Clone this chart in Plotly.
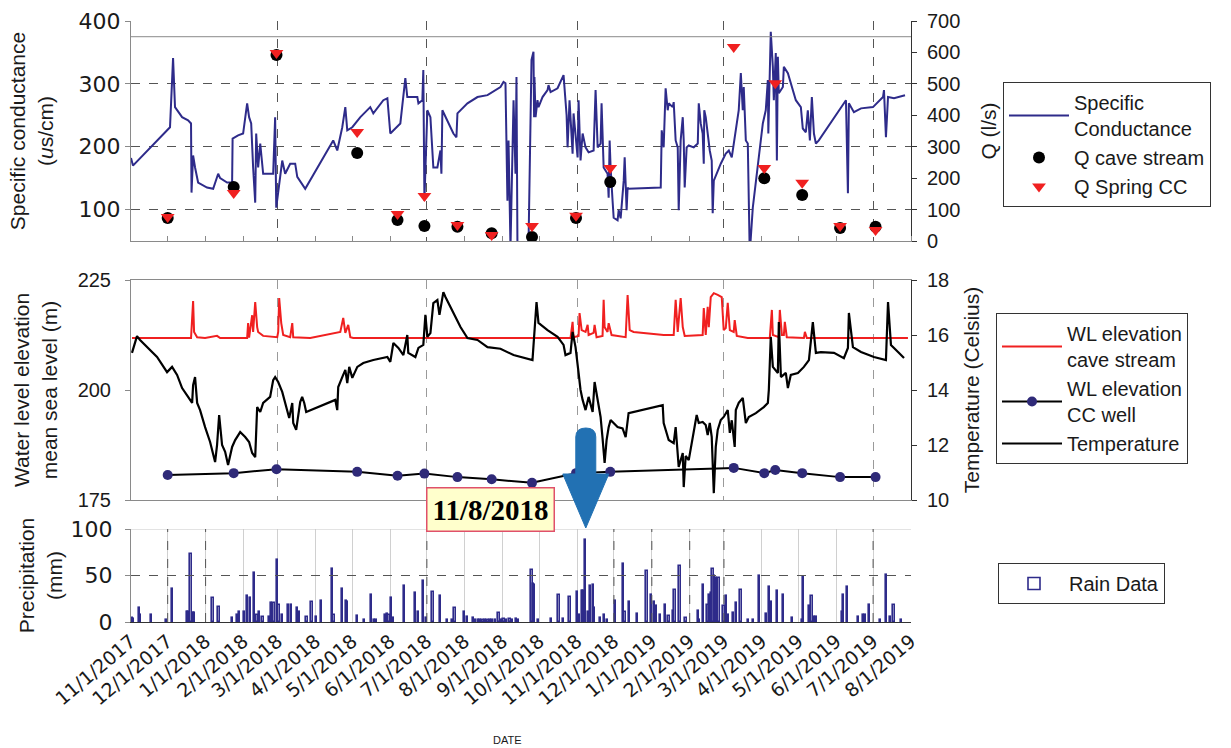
import pandas as pd
import plotly.graph_objects as go

W, H = 1231, 748
START = pd.Timestamp("2017-11-01")
END = pd.Timestamp("2019-08-01")
FONT = "Arial, Liberation Sans, sans-serif"
WIDE_FONT = "DejaVu Sans, Verdana, sans-serif"

# ---------------- data (day = days since 1 Nov 2017) ----------------
# Specific conductance at the spring (uS/cm)
sc_day = [0, 1.6, 31.9, 34.4, 36, 41.8, 46.7, 49.1, 49.5, 50.8,
          52.4, 54.9, 62.2, 67.2, 71.3, 72.9, 78.6, 82.7, 83.1, 87.6,
          91.7, 95, 96.6, 98.3, 99.9, 101.6, 102.4, 104, 105.7, 108.1,
          116.3, 117.9, 118.8, 123.7, 126.1, 130.2, 134.3, 136, 142.5, 165.4,
          168.7, 172.8, 175.3, 176.9, 181, 187.6, 195.7, 198.2, 206.4, 209.7,
          212.1, 214.6, 220.3, 224.4, 226, 234.2, 235.1, 238.3, 239.1, 240,
          242.4, 244.9, 247.3, 250.6, 253.1, 253.9, 254.7, 263.7, 266.2, 267,
          275.2, 283.4, 291.6, 302.2, 304.7, 306.3, 307.9, 308.8, 310.4, 312.9,
          314.5, 315.3, 316.1, 325.1, 327.6, 329.2, 329.7, 330, 330.9, 332.5,
          333.3, 336.6, 340.7, 341.5, 343.2, 348.9, 353.8, 355.4, 356.3, 357.1,
          358.7, 361.2, 362, 365.3, 366.1, 367.7, 369.4, 371.8, 374.3, 378.4,
          380, 381.7, 384.1, 384.9, 386.6, 389.8, 390.7, 391.5, 392.3, 393.9,
          394.8, 398, 398.9, 400.5, 403, 403.8, 405.4, 406.2, 407, 433.3,
          434.1, 435.7, 437.3, 439, 439.8, 443.1, 443.9, 445.5, 447.2, 448,
          449.6, 451.3, 452.1, 452.9, 454.5, 456.2, 460.3, 463.6, 464.4, 466,
          467.6, 468.5, 468.9, 470.1, 471.7, 473.4, 475, 475.8, 476.7, 479.9,
          482.4, 486.5, 489, 491.4, 493, 494.7, 497.1, 498.8, 500.4, 501.2,
          502.9, 504.5, 505.3, 506.1, 508.6, 512.7, 516.8, 519.2, 520.9, 521.3,
          523.3, 525, 525.8, 527.4, 528.3, 529.1, 529.9, 533.2, 534, 537.3,
          541.4, 543.8, 547.9, 549.5, 552, 553.6, 555.3, 556.9, 558.6, 560.2,
          562.6, 580.7, 584.8, 586.4, 587.2, 591.3, 597.1, 606.9, 615.1, 615.9,
          617.5, 619.2, 624.1, 633.1]
sc_us_cm = [182, 170, 231, 341, 263, 247, 242, 237, 127, 186,
            167, 143, 135, 133, 157, 150, 143, 143, 213, 218,
            221, 269, 247, 237, 167, 111, 221, 167, 205, 157,
            157, 247, 103, 178, 157, 173, 173, 152, 133, 210,
            194, 231, 263, 226, 231, 247, 263, 253, 274, 277,
            221, 226, 237, 309, 279, 279, 269, 274, 322, 114,
            258, 247, 167, 167, 194, 157, 258, 221, 215, 253,
            269, 279, 282, 295, 303, 301, 114, 210, 40, 274,
            157, 311, 40, 40, 338, 351, 247, 311, 247, 274,
            263, 279, 290, 298, 287, 293, 314, 279, 250, 199,
            274, 189, 253, 183, 274, 178, 221, 199, 191, 194,
            290, 199, 205, 269, 167, 157, 119, 210, 167, 114,
            87, 83, 99, 86, 146, 183, 99, 135, 133, 135,
            226, 199, 293, 258, 269, 263, 271, 210, 199, 99,
            210, 247, 210, 135, 199, 202, 199, 205, 269, 237,
            221, 173, 258, 247, 221, 194, 178, 94, 146, 162,
            173, 189, 194, 183, 205, 221, 258, 317, 258, 295,
            210, 205, 40, 30, 103, 167, 237, 258, 306, 221,
            383, 327, 274, 349, 178, 343, 285, 295, 327, 317,
            290, 274, 263, 229, 223, 258, 210, 279, 221, 205,
            210, 263, 274, 126, 269, 255, 261, 263, 279, 290,
            215, 279, 277, 282]

# Field survey dates: discharge (l/s) and CC well water level (m a.s.l.)
survey_day = [30, 84, 119, 185, 218, 240, 267, 295, 328, 364,
              392, 493, 518, 527, 549, 580, 609]
q_cave_stream = [73, 172, 592, 280, 67, 48, 45, 25, 13, 73,
                 188, None, 200, None, 146, 41, 45]
q_spring_cc = [76, 153, 598, 347, 86, 143, 51, 19, 48, 80,
               232, 617, 232, 502, 185, 48, 35]
wl_cc_well = [180.7, 181.1, 182.0, 181.4, 180.5, 181.0, 180.2, 179.7, 178.9, 181.1,
              181.4, 182.3, 181.1, 181.8, 181.1, 180.2, 180.2]

# Cave stream water level (m a.s.l.)
wl_stream_day = [0.8, 49.1, 50.8, 51.6, 54.1, 60.6, 70.4, 72.9, 95, 95.8,
                 96.6, 99.1, 99.9, 101.6, 103.2, 104, 108.1, 119.6, 120.4, 121.2,
                 122.9, 124.5, 130.2, 131.9, 132.7, 146.6, 171.2, 173.6, 175.3, 177.7,
                 179.4, 181.8, 359.5, 361.2, 362, 366.1, 366.9, 368.6, 371.8, 373.5,
                 374.3, 378.4, 379.2, 380.8, 385.7, 386.6, 387.4, 389.8, 390.7, 393.1,
                 404.6, 406.2, 407.9, 411.1, 435.7, 443.9, 445.5, 447.2, 449.6, 451.3,
                 452.9, 467.6, 468.5, 470.1, 471.7, 472.6, 474.2, 476.7, 479.9, 483.2,
                 484.8, 486.5, 488.1, 489.8, 493, 493.8, 495.5, 504.5, 522.5, 524.2,
                 525, 529.9, 530.7, 532.4, 534, 534.8, 536.4, 550.4, 551.2, 552.8,
                 635.5]
wl_stream_m = [211.8, 211.8, 220.2, 213.2, 212.0, 211.8, 212.3, 211.8, 211.8, 215.2,
               211.9, 217.0, 213.2, 220.0, 214.3, 213.2, 212.3, 212.0, 213.2, 220.9,
               215.2, 212.5, 212.0, 215.2, 212.0, 211.8, 213.2, 216.4, 213.0, 214.8,
               212.0, 211.8, 211.8, 215.5, 212.0, 212.3, 217.5, 213.6, 213.2, 214.8,
               212.5, 213.0, 214.8, 212.0, 212.3, 220.5, 214.3, 213.2, 215.2, 212.5,
               212.0, 221.6, 213.6, 213.2, 212.5, 212.5, 220.5, 213.2, 220.9, 214.3,
               212.3, 212.5, 218.6, 212.5, 218.9, 214.3, 221.1, 222.0, 221.6, 221.1,
               213.6, 214.1, 219.8, 213.6, 213.2, 215.9, 212.3, 211.8, 211.8, 218.2,
               212.5, 212.0, 218.2, 212.5, 212.5, 215.5, 212.0, 211.8, 213.2, 211.8,
               211.8]

# Cave stream temperature (deg C)
temp_day = [0.8, 4.9, 7.4, 21.3, 29.5, 33.6, 37.7, 41.8, 46.7, 50,
            50.8, 52.4, 54.1, 56.5, 60.6, 64.7, 68.8, 70.4, 72.1, 74.5,
            77, 79.4, 82.7, 85.2, 89.3, 93.4, 96.6, 99.1, 101.6, 103.2,
            105.7, 108.1, 113.8, 116.3, 117.9, 120.4, 123.7, 126.9, 129.4, 131.9,
            132.7, 135.1, 138.4, 140, 141.7, 143.3, 167.1, 168.7, 169.5, 172.8,
            175.3, 176.9, 178.5, 181, 185.1, 190, 198.2, 209.7, 212.1, 214.6,
            218.7, 222.8, 226, 226.8, 232.6, 235.1, 239.1, 240.8, 242.4, 244.9,
            247.3, 250.6, 252.3, 255.5, 257.2, 269.5, 275.2, 283.4, 291.6, 302.2,
            312.9, 328.4, 331.7, 333.3, 340.7, 348.9, 353.8, 355.4, 359.5, 361.2,
            363.6, 366.1, 367.7, 369.4, 371.8, 374.3, 377.6, 379.2, 381.7, 384.1,
            385.7, 387.4, 389, 390.7, 392.3, 398, 402.1, 404.6, 407, 434.9,
            435.7, 439.8, 443.9, 445.5, 448, 451.3, 452.1, 453.7, 456.2, 462.7,
            464.4, 467.6, 470.1, 471.7, 473.4, 475, 476.7, 478.3, 479.9, 482.4,
            484.8, 488.1, 489.8, 491.4, 493.8, 494.7, 497.1, 500.4, 502.9, 505.3,
            511.1, 517.6, 520.9, 521.7, 523.3, 525, 529.1, 529.9, 531.6, 535.6,
            537.3, 539.7, 545.5, 550.4, 554.5, 557.7, 560.2, 564.3, 575, 583.1,
            586.4, 587.2, 590.5, 597.1, 607.7, 617.5, 619.2, 621.6, 627.4, 632.3]
temp_c = [15.35, 15.96, 15.82, 15.2, 14.65, 14.84, 14.55, 14.07, 13.75, 13.53,
          14.18, 14.47, 13.53, 13.27, 12.65, 12.11, 11.38, 12.0, 13.09, 12.0,
          11.75, 11.27, 11.93, 12.18, 12.47, 12.29, 12.11, 11.71, 11.56, 13.38,
          13.2, 13.53, 13.75, 14.36, 14.47, 14.29, 13.93, 13.38, 12.98, 13.53,
          12.8, 12.55, 13.56, 13.75, 13.53, 13.2, 13.64, 13.27, 14.11, 14.47,
          14.73, 14.25, 14.84, 14.44, 14.84, 14.98, 15.09, 15.2, 15.02, 15.71,
          15.53, 15.27, 16.0, 15.35, 15.2, 15.53, 15.64, 16.73, 15.93, 16.07,
          17.16, 17.27, 16.73, 17.56, 17.38, 16.29, 15.89, 15.82, 15.56, 15.5,
          15.27, 15.09, 17.2, 16.44, 16.18, 15.93, 15.64, 15.27, 15.35, 16.11,
          15.56, 14.62, 14.0, 13.64, 13.27, 13.75, 13.2, 14.29, 13.64, 13.02,
          12.25, 11.35, 12.18, 12.65, 12.91, 12.65, 12.6, 12.29, 13.16, 13.45,
          12.8, 12.18, 12.07, 12.65, 11.2, 11.71, 10.47, 11.6, 11.45, 13.09,
          12.8, 12.84, 12.73, 12.36, 12.8, 12.3, 10.25, 11.93, 12.55, 12.91,
          13.02, 13.27, 12.44, 12.9, 11.93, 13.27, 13.53, 13.71, 12.8, 13.02,
          13.16, 13.38, 13.53, 14.0, 15.93, 14.84, 14.62, 16.47, 14.47, 14.62,
          14.07, 14.55, 14.62, 14.84, 15.09, 16.47, 15.35, 15.38, 15.35, 15.16,
          15.53, 16.8, 15.56, 15.38, 15.2, 15.09, 17.2, 15.64, 15.38, 15.16]

# Daily rainfall (mm)
rain_day = [1, 2, 7, 8, 17, 29, 34, 46, 47, 49,
            51, 52, 67, 72, 83, 87, 89, 93, 95, 98,
            101, 103, 105, 108, 113, 115, 117, 120, 121, 124,
            129, 131, 136, 138, 144, 148, 152, 156, 165, 166,
            173, 176, 177, 185, 191, 197, 199, 201, 208, 210,
            211, 213, 215, 224, 233, 235, 239, 242, 247, 253,
            259, 263, 265, 273, 275, 280, 282, 284, 286, 288,
            290, 292, 294, 296, 298, 301, 303, 305, 307, 310,
            312, 315, 317, 328, 329, 330, 333, 344, 350, 354,
            359, 365, 367, 369, 370, 372, 374, 376, 378, 379,
            384, 387, 390, 396, 403, 404, 408, 414, 422, 426,
            428, 430, 433, 437, 440, 444, 445, 449, 454, 464,
            465, 468, 472, 473, 475, 476, 477, 479, 481, 485,
            487, 489, 493, 495, 499, 505, 509, 514, 520, 522,
            524, 529, 534, 541, 549, 550, 555, 557, 559, 561,
            582, 583, 586, 595, 599, 601, 604, 613, 618, 621,
            624, 630]
rain_mm = [4, 3, 15, 7, 7, 2, 35, 11, 11, 73,
           10, 10, 26, 16, 4, 7, 11, 11, 28, 26,
           53, 7, 11, 5, 5, 20, 20, 67, 18, 7,
           18, 18, 15, 11, 5, 21, 5, 23, 57, 7,
           36, 23, 22, 6, 2, 29, 2, 2, 7, 9,
           7, 26, 4, 39, 31, 11, 44, 4, 32, 28,
           2, 2, 15, 11, 5, 4, 2, 2, 2, 2,
           2, 2, 2, 2, 2, 10, 2, 3, 2, 3,
           2, 3, 2, 56, 41, 40, 2, 3, 29, 3,
           27, 32, 7, 33, 33, 88, 11, 39, 40, 15,
           4, 8, 2, 23, 62, 11, 22, 9, 55, 29,
           22, 17, 7, 18, 6, 12, 34, 60, 4, 12,
           2, 40, 18, 29, 31, 57, 50, 47, 47, 17,
           28, 7, 10, 20, 34, 2, 2, 49, 9, 38,
           22, 33, 29, 4, 2, 48, 17, 28, 5, 5,
           11, 29, 38, 5, 7, 7, 18, 2, 51, 5,
           18, 2]

HIGHLIGHT_DATE = "2018-11-08"


def as_dates(days):
    return [START + pd.Timedelta(days=d) for d in days]


# ---------------- page geometry (pixels -> paper) ----------------
def px_x(p):
    return p / W


def px_y(p):
    return 1 - p / H


XDOM = [px_x(131), px_x(911)]
TOP = [px_y(241), px_y(21)]
MID = [px_y(500), px_y(280)]
BOT = [px_y(622), px_y(529)]

NAVY = "#2E2B8A"
RED = "#F02020"
INK = "#1a1a1a"
tick_font = dict(family=FONT, size=20, color=INK)
wide_tick_font = dict(family=WIDE_FONT, size=22, color=INK)
title_font = dict(family=FONT, size=21, color=INK)
legend_box = dict(bordercolor="#333333", borderwidth=1, bgcolor="white",
                  font=dict(family=FONT, size=20, color=INK),
                  xanchor="left", yanchor="top", tracegroupgap=0, itemwidth=60)

fig = go.Figure()

# top panel
fig.add_trace(go.Scatter(x=as_dates(sc_day), y=sc_us_cm, name="Specific<br>Conductance",
                         mode="lines", line=dict(color=NAVY, width=2),
                         xaxis="x2", yaxis="y", legend="legend"))
fig.add_trace(go.Scatter(x=as_dates(survey_day), y=q_cave_stream, name="Q cave stream",
                         mode="markers", marker=dict(color="black", size=12, symbol="circle"),
                         xaxis="x2", yaxis="y2", legend="legend"))
fig.add_trace(go.Scatter(x=as_dates(survey_day), y=q_spring_cc, name="Q Spring CC",
                         mode="markers", marker=dict(color=RED, size=12, symbol="triangle-down"),
                         xaxis="x2", yaxis="y2", legend="legend"))

# middle panel
fig.add_trace(go.Scatter(x=as_dates(wl_stream_day), y=wl_stream_m, name="WL elevation<br>cave stream",
                         mode="lines", line=dict(color=RED, width=2),
                         xaxis="x3", yaxis="y3", legend="legend2"))
fig.add_trace(go.Scatter(x=as_dates(survey_day), y=wl_cc_well, name="WL elevation<br>CC well",
                         mode="lines+markers", line=dict(color="black", width=2),
                         marker=dict(color="#2F2A78", size=10),
                         xaxis="x3", yaxis="y3", legend="legend2"))
fig.add_trace(go.Scatter(x=as_dates(temp_day), y=temp_c, name="Temperature",
                         mode="lines", line=dict(color="black", width=2.2),
                         xaxis="x3", yaxis="y4", legend="legend2"))

# bottom panel
fig.add_trace(go.Bar(x=as_dates(rain_day), y=rain_mm, name="Rain Data",
                     width=86400000, marker=dict(color="white", line=dict(color=NAVY, width=1.6)),
                     xaxis="x", yaxis="y5", legend="legend3"))

date_common = dict(type="date", range=[START, END], domain=XDOM, zeroline=False,
                   automargin=False)
y_common = dict(automargin=False, zeroline=False, ticks="outside", ticklen=5)

fig.update_layout(
    width=W, height=H, margin=dict(l=0, r=0, t=0, b=0, autoexpand=False),
    paper_bgcolor="white", plot_bgcolor="white", showlegend=True,
    xaxis=dict(**date_common, anchor="y5", dtick="M1", tick0="2017-11-01",
               tickformat="%-m/%-d/%Y", tickangle=-40,
               tickfont=dict(family=WIDE_FONT, size=19, color=INK),
               showgrid=True, gridcolor="#d0d0d0", gridwidth=1,
               showline=True, linecolor="#333333", linewidth=1, ticks=""),
    xaxis2=dict(**date_common, anchor="y", matches="x", showticklabels=False,
                dtick="M4", tick0="2018-03-01", showgrid=True, gridcolor="#555555",
                griddash="dash", gridwidth=1, showline=True, linecolor="#8a8a8a", ticks="",
                minor=dict(dtick="M1", ticks="inside", ticklen=5, tickcolor="#8a8a8a", showgrid=False)),
    xaxis3=dict(**date_common, anchor="y3", matches="x", showticklabels=False,
                dtick="M4", tick0="2018-03-01", showgrid=True, gridcolor="#9a9a9a",
                griddash="dash", gridwidth=1, showline=True, mirror=True,
                linecolor="#8a8a8a", ticks=""),
    yaxis=dict(**y_common, domain=TOP, anchor="x2", range=[50, 400], tickvals=[100, 200, 300, 400],
               tickfont=wide_tick_font, showgrid=True, gridcolor="#555555", griddash="dash",
               showline=True, linecolor="#8a8a8a", tickcolor="#8a8a8a",
               title=dict(text="Specific conductance<br>(<i>u</i>s/cm)", font=title_font, standoff=19)),
    yaxis2=dict(**y_common, overlaying="y", anchor="x2", side="right", range=[0, 700], dtick=100,
                tickfont=tick_font, ticklabelstandoff=6,
                showgrid=False, showline=True, linecolor="#333333", tickcolor="#333333",
                title=dict(text="Q (l/s)", font=title_font, standoff=21)),
    yaxis3=dict(**y_common, domain=MID, anchor="x3", range=[175, 225], tickvals=[175, 200, 225],
                tickfont=tick_font, ticklabelstandoff=10,
                showgrid=False, showline=True, linecolor="#8a8a8a", tickcolor="#8a8a8a",
                title=dict(text="Water level elevation<br>mean sea level (m)", font=title_font,
                           standoff=14)),
    yaxis4=dict(**y_common, overlaying="y3", anchor="x3", side="right", range=[10, 18], dtick=2,
                tickfont=tick_font, ticklabelstandoff=6,
                showgrid=False, showline=True, linecolor="#333333", tickcolor="#333333",
                title=dict(text="Temperature (Celsius)", font=title_font, standoff=16)),
    yaxis5=dict(**y_common, domain=BOT, anchor="x", range=[0, 100], tickvals=[0, 50, 100],
                tickfont=wide_tick_font, ticklabelstandoff=8,
                showgrid=False, showline=True, linecolor="#8a8a8a", tickcolor="#8a8a8a",
                title=dict(text="Precipitation<br>(mm)", font=title_font, standoff=2)),
    legend=dict(**legend_box, x=px_x(1003), y=px_y(82)),
    legend2=dict(**legend_box, x=px_x(996), y=px_y(313)),
    legend3=dict(**legend_box, x=px_x(998), y=px_y(563)),
    bargap=0,
)

# frame and reference lines
shapes = [
    dict(type="line", xref="x2 domain", yref="y", x0=0, x1=1, y0=375, y1=375,
         line=dict(color="#8a8a8a", width=1)),
    dict(type="line", xref="x domain", yref="y5", x0=0, x1=1, y0=100, y1=100,
         line=dict(color="#c8c8c8", width=1)),
    dict(type="line", xref="x domain", yref="y5", x0=0, x1=1, y0=50, y1=50,
         line=dict(color="#555555", width=1, dash="dash")),
]
for month in ["2017-12-01", "2018-01-01", "2018-07-01", "2018-12-01",
              "2019-01-01", "2019-02-01", "2019-03-01", "2019-07-01"]:
    shapes.append(dict(type="line", xref="x", yref="y5 domain", x0=month, x1=month,
                       y0=0, y1=1, line=dict(color="#555555", width=1, dash="dash")))

# highlight arrow pointing at the marked date
span_days = (END - START).days
hl_day = (pd.Timestamp(HIGHLIGHT_DATE) - START).days
cx = XDOM[0] + hl_day / span_days * (XDOM[1] - XDOM[0])
sw, hw = 10 / W, 23 / W
a_top, a_neck, a_tip = px_y(428), px_y(474), px_y(528)
cap = 9 / H
arrow_path = (f"M{cx - sw},{a_top - cap} Q{cx - sw},{a_top} {cx},{a_top} "
              f"Q{cx + sw},{a_top} {cx + sw},{a_top - cap} "
              f"L{cx + sw},{a_neck} L{cx + hw},{a_neck} L{cx},{a_tip} "
              f"L{cx - hw},{a_neck} L{cx - sw},{a_neck} Z")
shapes.append(dict(type="path", xref="paper", yref="paper", path=arrow_path,
                   fillcolor="#2271B3", line=dict(color="#2271B3", width=1), layer="above"))
fig.update_layout(shapes=shapes)

hl = pd.Timestamp(HIGHLIGHT_DATE)
fig.add_annotation(xref="paper", yref="paper", x=px_x(490), y=px_y(510),
                   text=f"<b>{hl.month}/{hl.day}/{hl.year}</b>", showarrow=False,
                   font=dict(family="Times New Roman, Liberation Serif, serif", size=29, color="black"),
                   bgcolor="#FFFFCC", bordercolor="#E0506A", borderwidth=1.5, borderpad=5,
                   xanchor="center", yanchor="middle")

# x-axis caption below the rotated month labels
fig.add_annotation(xref="paper", yref="paper", x=px_x(507), y=px_y(740), text="DATE",
                   showarrow=False, font=dict(family=FONT, size=11, color=INK),
                   xanchor="center", yanchor="middle")

fig.write_html("out.html")
